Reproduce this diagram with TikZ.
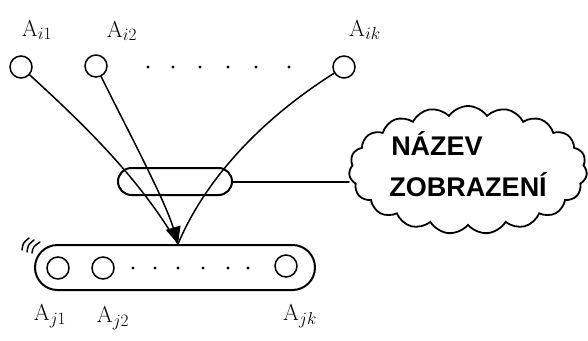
\documentclass[tikz,border=0pt]{standalone}
\usepackage{fontspec}
\newfontfamily\cloudfont{Liberation Sans}
\usetikzlibrary{arrows.meta,shapes.symbols,shapes.misc}
\begin{document}
\begin{tikzpicture}[x=1pt,y=-1pt,line cap=round,
  elem/.style={circle,draw,line width=1.5pt,minimum size=22pt,inner sep=0pt},
  lbl/.style={font=\fontsize{23}{25}\selectfont,inner sep=0pt},
  conn/.style={line width=1.5pt},
  dot/.style={circle,fill,inner sep=0pt,minimum size=3.2pt}]
\useasboundingbox (0,0) rectangle (588,340);
% top elements
\node[elem] (i1) at (21,67) {};
\node[elem] (i2) at (96,66) {};
\node[elem] (ik) at (344,67) {};
\node[lbl] (li1) at (37,30) {A$_{i1}$};
\node[lbl] (li2) at (122,31) {A$_{i2}$};
\node[lbl] (lik) at (365,30) {A$_{ik}$};
\foreach \x/\n in {148/a,173/b,200/c,228/d,256/e,289/f}
  \node[dot] (td\n) at (\x,67) {};
% pill
\node[draw,line width=2pt,rounded rectangle,minimum width=114pt,minimum height=27pt,inner sep=0pt] (pill) at (175,181.5) {};
% conveyor
\node[draw,line width=2pt,rounded rectangle,minimum width=280pt,minimum height=45pt,inner sep=0pt] (conv) at (175,267.5) {};
\node[elem] (j1) at (58,268) {};
\node[elem] (j2) at (103,268) {};
\node[elem] (jk) at (286,266) {};
\foreach \x/\n in {133/a,155/b,178/c,203/d,228/e,248/f}
  \node[dot] (bd\n) at (\x,268) {};
\node[lbl] (lj1) at (50,316) {A$_{j1}$};
\node[lbl] (lj2) at (113,318) {A$_{j2}$};
\node[lbl] (ljk) at (300,316) {A$_{jk}$};
% motion marks
\draw[line width=1.5pt] (22,250) .. controls (23,243) .. (29,238);
\draw[line width=1.5pt] (27,252) .. controls (28,245) .. (34,240);
\draw[line width=1.5pt] (32,253) .. controls (33,247) .. (40,242);
% tip
\coordinate (tip) at (178,244);
\draw[conn] (i1) .. controls (90,130) and (140,180) .. (tip);
\draw[conn] (ik) .. controls (260,120) and (205,180) .. (tip);
\draw[conn,-{Triangle[width=15pt,length=17pt]}] (i2) .. controls (125,125) and (165,200) .. (tip);
% cloud
\node[cloud,draw,line width=1.8pt,cloud puffs=19,cloud puff arc=110,cloud ignores aspect,
  minimum width=238pt,minimum height=128pt,inner sep=0pt] (cl) at (468,170) {};
\node[font=\cloudfont\bfseries\fontsize{27}{30}\selectfont,inner sep=0pt] (t1) at (437,144) {NÁZEV};
\node[font=\cloudfont\bfseries\fontsize{27}{30}\selectfont,inner sep=0pt] (t2) at (468,185) {ZOBRAZENÍ};
\draw[line width=2pt] (pill.east) -- (pill.east -| cl.west);
\end{tikzpicture}
\end{document}
